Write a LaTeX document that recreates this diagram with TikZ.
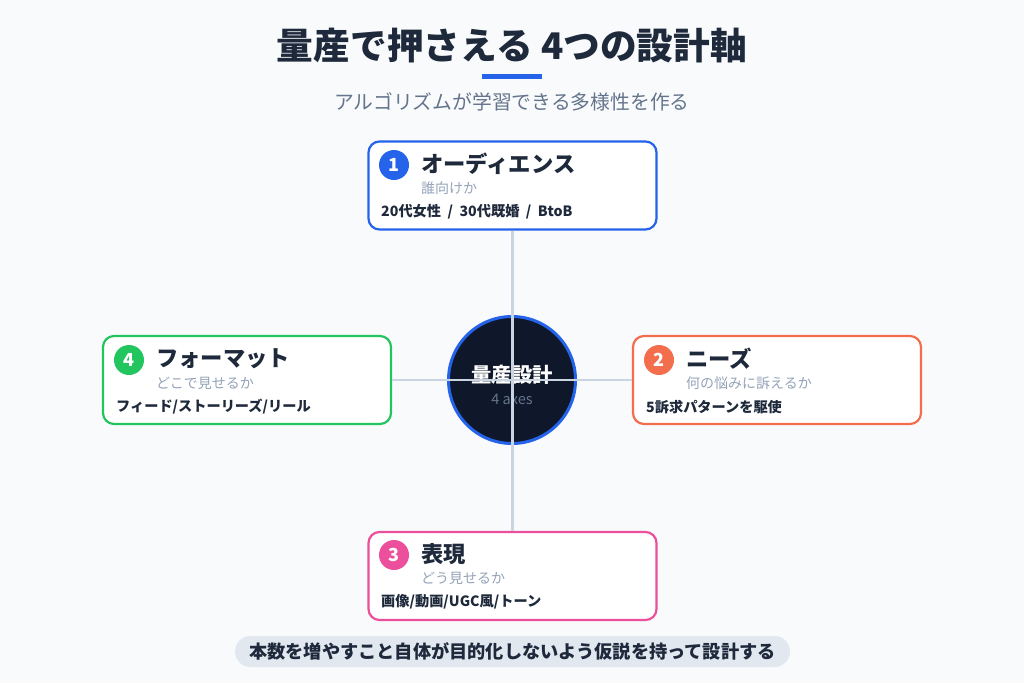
\documentclass[tikz,border=0pt]{standalone}
\usepackage{fontspec}
\setmainfont{Noto Sans CJK JP}
\newfontfamily\jpblack{Noto Sans CJK JP Black}
\usetikzlibrary{positioning}
\definecolor{bgc}{HTML}{F8FAFC}
\definecolor{ink}{HTML}{1E293B}
\definecolor{gr}{HTML}{64748B}
\definecolor{lgr}{HTML}{94A3B8}
\definecolor{axis}{HTML}{CBD5E1}
\definecolor{cblue}{HTML}{2563EB}
\definecolor{corange}{HTML}{F26E4C}
\definecolor{cgreen}{HTML}{22C55E}
\definecolor{cpink}{HTML}{EC4F9C}
\definecolor{navy}{HTML}{0F172A}
\definecolor{pill}{HTML}{E2E8F0}
\newcommand{\slsep}{\hspace{6.5pt}/\hspace{6.5pt}}
\tikzset{
  card/.style={draw=#1, line width=2.2pt, fill=white, rounded corners=11pt, minimum width=288pt, minimum height=88pt, inner sep=0pt},
  badge/.style={circle, fill=#1, minimum size=30pt, inner sep=0pt, text=white, font=\bfseries\fontsize{18}{18}\selectfont},
  ctitle/.style={anchor=west, text=ink, font=\bfseries\fontsize{22.3}{22.3}\selectfont, inner sep=0pt},
  csub/.style={anchor=west, text=lgr, font=\fontsize{14}{14}\selectfont, inner sep=0pt},
  cdet/.style={anchor=west, text=ink, font=\bfseries\fontsize{14.2}{14.2}\selectfont, inner sep=0pt},
  axisline/.style={draw=axis, line width=2.4pt}
}
\begin{document}
\begin{tikzpicture}[x=1pt,y=-1pt]
\fill[bgc] (0,0) rectangle (1024,683);
\useasboundingbox (0,0) rectangle (1024,683);
% title
\node[text=ink, font=\jpblack\fontsize{36.7}{36.7}\selectfont, inner sep=0pt] (title) at (512,46) {量産で押さえる 4つの設計軸};
\fill[cblue] (482,74) rectangle (542,78.5);
\node[text=gr, font=\fontsize{19.8}{19.8}\selectfont, inner sep=0pt] (subtitle) at (512,102) {アルゴリズムが学習できる多様性を作る};
% cards
\node[card=cblue] (top) at (512.5,185.5) {};
\node[card=cgreen] (left) at (247,380) {};
\node[card=corange] (right) at (777,380) {};
\node[card=cpink] (bottom) at (512.5,576) {};
% center circle
\node[circle, fill=navy, draw=cblue, line width=3pt, minimum size=127pt, inner sep=0pt] (center) at (512,380) {};
\node[text=white, font=\bfseries\fontsize{20.3}{20.3}\selectfont, inner sep=0pt] (ctext) at (512,375) {量産設計};
\node[text=gr, font=\fontsize{14.5}{14.5}\selectfont, inner sep=0pt] (csubt) at (512,399) {4 axes};
% axes
\draw[axisline] (top.south) -- (bottom.north);
\draw[axisline] (left.east) -- (right.west);
% top card content
\node[badge=cblue] (b1) at (394,165) {1};
\node[ctitle] (t1) at (421,164) {オーディエンス};
\node[csub] (s1) at (421,188) {誰向けか};
\node[cdet] (d1) at (381,212) {20代女性\slsep 30代既婚\slsep BtoB};
% right card
\node[badge=corange] (b2) at (659,360) {2};
\node[ctitle] (t2) at (686,359) {ニーズ};
\node[csub] (s2) at (686,383) {何の悩みに訴えるか};
\node[cdet] (d2) at (646,407) {5訴求パターンを駆使};
% bottom card
\node[badge=cpink] (b3) at (394,555) {3};
\node[ctitle] (t3) at (421,554) {表現};
\node[csub] (s3) at (421,578) {どう見せるか};
\node[cdet] (d3) at (381,602) {画像/動画/UGC風/トーン};
% left card
\node[badge=cgreen] (b4) at (129,360) {4};
\node[ctitle] (t4) at (156,359) {フォーマット};
\node[csub] (s4) at (156,383) {どこで見せるか};
\node[cdet] (d4) at (116,407) {フィード/ストーリーズ/リール};
% footer pill
\node[fill=pill, rounded corners=15.5pt, minimum width=555pt, minimum height=31pt, inner sep=0pt] (pillbox) at (512.5,651.5) {};
\node[text=ink, font=\bfseries\fontsize{18.2}{18.2}\selectfont, inner sep=0pt] (pilltext) at (512.5,651) {本数を増やすこと自体が目的化しないよう仮説を持って設計する};
\end{tikzpicture}
\end{document}
